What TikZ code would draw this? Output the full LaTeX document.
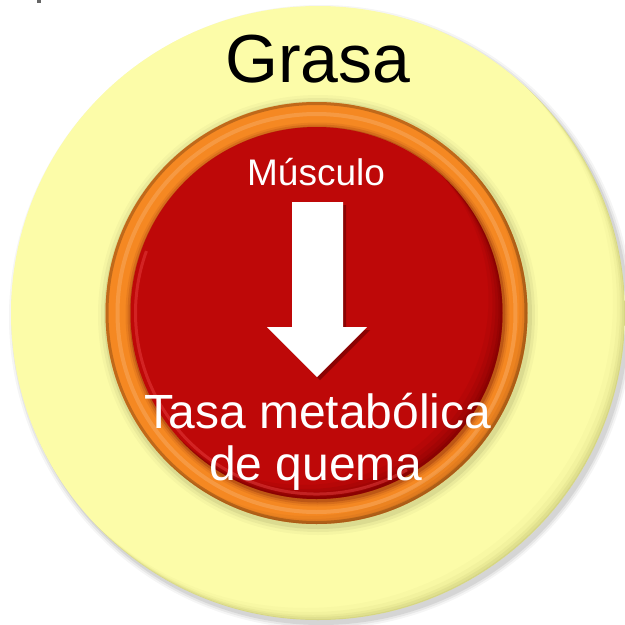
\documentclass[tikz,border=0pt]{standalone}
\usepackage{fontspec}
\setmainfont{Liberation Sans}
\definecolor{ylw}{RGB}{252,252,168}
\definecolor{ylwdark}{RGB}{150,150,70}
\definecolor{org}{RGB}{245,136,34}
\definecolor{orgdark}{RGB}{140,75,20}
\definecolor{redc}{RGB}{190,8,8}
\definecolor{reddark}{RGB}{90,0,0}
\definecolor{redlight}{RGB}{235,70,70}
\tikzset{
  label/.style={inner sep=0pt, anchor=base, text=white},
}
\begin{document}
\begin{tikzpicture}[x=1pt,y=-1pt]
\useasboundingbox (0,0) rectangle (625,625);
% tiny fragment top left
\fill[gray!80!black] (37,0) rectangle (41,3);
% drop shadow of outer disc
\foreach \r/\op in {312/0.04,310/0.06,308/0.08}
  \fill[black,opacity=\op] (321,317) circle (\r);
% outer disc (Grasa)
\fill[ylw] (318,313) circle (307);
\begin{scope}
  \clip (318,313) circle (307);
  \foreach \d/\op in {1/0.12,3/0.1,5/0.08,8/0.06,12/0.04}
    \draw[ylwdark,line width=40,opacity=\op] ({318-\d},{313-\d}) circle (327);
  \foreach \d/\op in {3/0.3,6/0.2}
    \draw[white,line width=40,opacity=\op] ({318+\d},{313+\d}) circle (327+12);
\end{scope}
% shadow of orange ring on yellow
\foreach \r/\op in {220/0.03,217/0.05,214/0.08}
  \fill[black!70!ylwdark,opacity=\op] (318,315) circle (\r);
% orange ring
\fill[org] (316.5,313) circle (211);
\begin{scope}
  \clip (316.5,313) circle (211);
  \draw[orgdark,line width=6,opacity=0.5] (316.5,313) circle (211);
  \foreach \d/\op in {1/0.15,3/0.12,5/0.1,8/0.08}
    \draw[orgdark,line width=30,opacity=\op] ({316.5-\d},{313-\d}) circle (226);
  \draw[white,line width=4,opacity=0.15] (316.5,313) circle (199);
\end{scope}
% shadow of red disc on orange
\foreach \r/\op in {192/0.08,190/0.12,188/0.2}
  \fill[reddark,opacity=\op] (317.5,314.5) circle (\r);
% red disc
\fill[redc] (316.5,313) circle (186);
\begin{scope}
  \clip (316.5,313) circle (186);
  \foreach \d/\op in {2/0.2,4/0.15,7/0.12,10/0.1,14/0.07}
    \draw[reddark,line width=30,opacity=\op] ({316.5-\d},{313-\d}) circle (201);
  \draw[redlight,line width=3,opacity=0.45] (316.5,313) ++(60:181) arc (60:200:181);
\end{scope}
% arrow with shadow
\fill[reddark,opacity=0.5] (295,205) -- (346,205) -- (346,330) -- (370,330) -- (320,380) -- (270,330) -- (295,330) -- cycle;
\fill[white] (292,202) -- (343,202) -- (343,327) -- (367,327) -- (317,377) -- (267,327) -- (292,327) -- cycle;
% texts
\node[label, text=black, font=\fontsize{68}{80}\selectfont] (grasa) at (318,82) {Grasa};
\node[label, font=\fontsize{37}{44}\selectfont] (musculo) at (316,185) {Músculo};
\node[label, font=\fontsize{48}{56}\selectfont] (tasa1) at (318,428) {Tasa metabólica};
\node[label, font=\fontsize{48}{56}\selectfont] (tasa2) at (316,480) {de quema};
\end{tikzpicture}
\end{document}
